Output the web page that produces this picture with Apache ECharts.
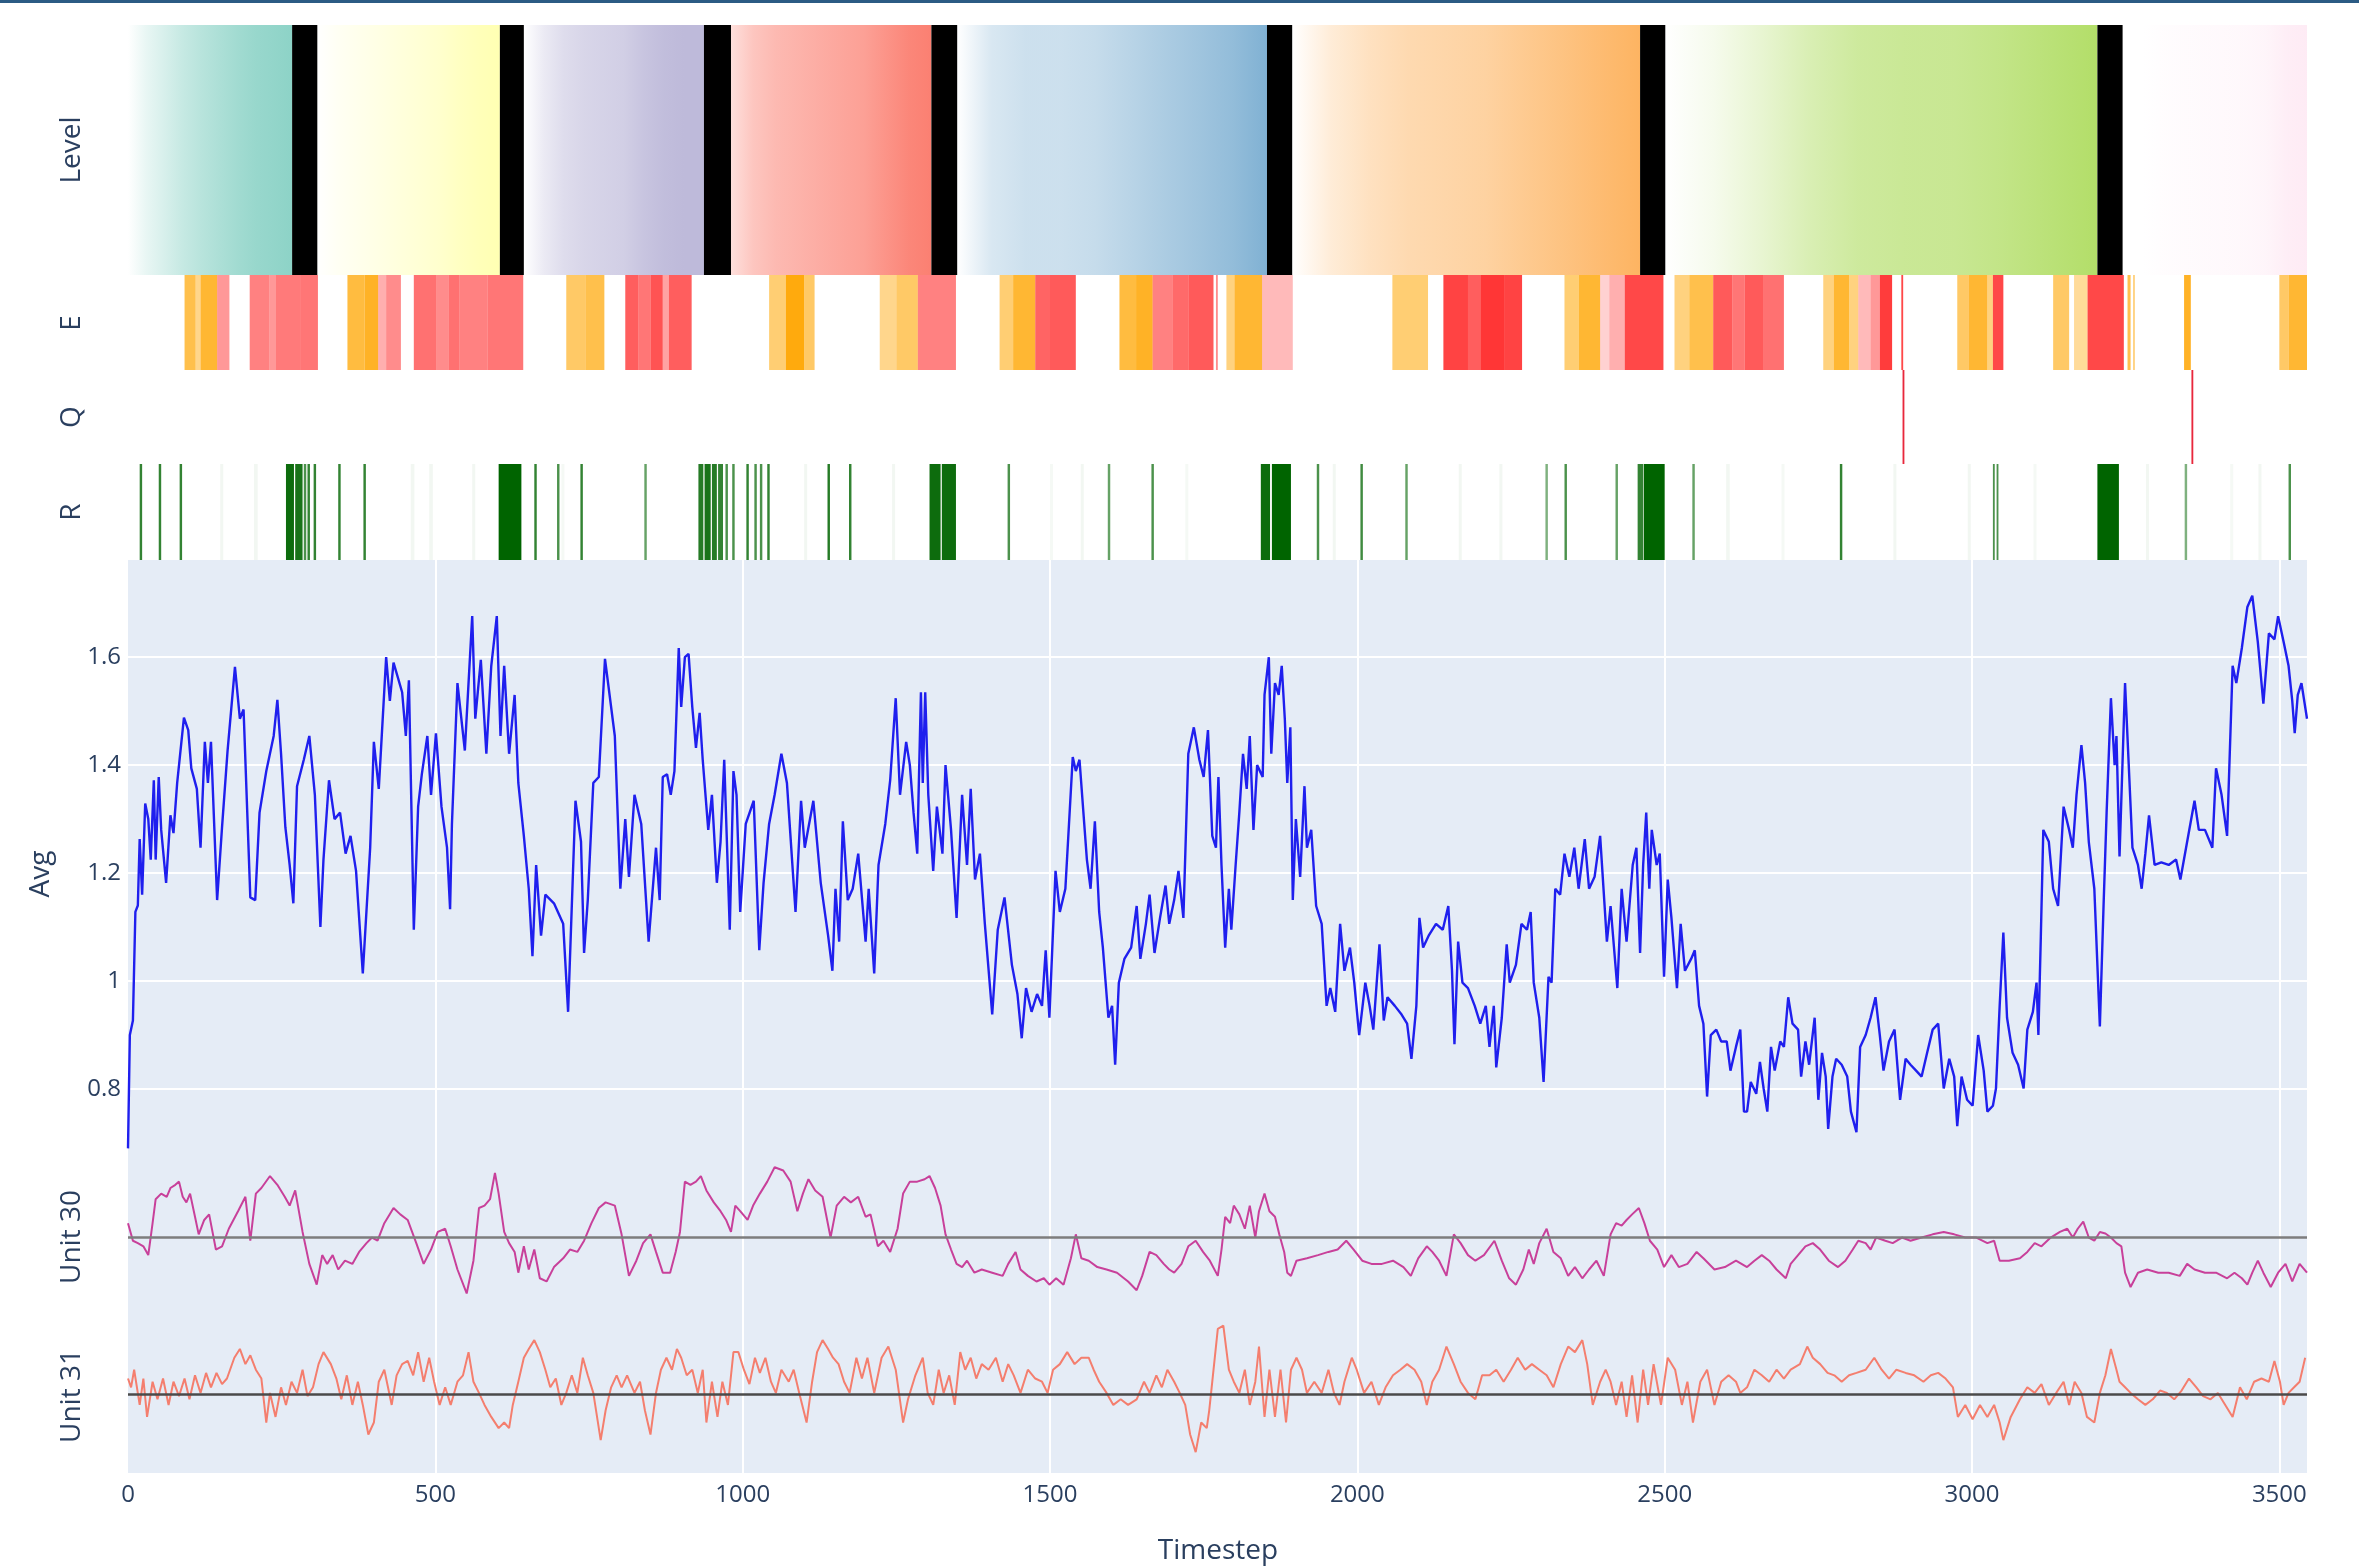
<!DOCTYPE html>
<html>
<head>
<meta charset="utf-8">
<script src="https://cdn.jsdelivr.net/npm/echarts@6/dist/echarts.min.js"></script>
<style>html,body{margin:0;padding:0;background:#fff}#c{width:2359px;height:1566px}</style>
</head>
<body>
<div id="c"></div>
<script>
// ---------------- DATA ----------------
const X_MAX = 3545;
const xTicks = [0, 500, 1000, 1500, 2000, 2500, 3000, 3500];

// Level strip: each level segment shows its progress (0..1) in samples
const levelStart = [0, 308, 644, 981, 1349, 1894, 2501, 3245];
const levelEnd   = [267, 605, 937, 1307, 1853, 2460, 3204, 3545];
const levelColor = ['#8DD3C7', '#FFFFB3', '#BEBADA', '#FB8072', '#80B1D3', '#FDB462', '#B3DE69', '#FCCDE5'];
const levelFill = [
  [0.0, 0.2, 0.35, 0.5, 0.62, 0.72, 0.82, 0.9, 0.95, 1.0],
  [0.0, 0.15, 0.25, 0.35, 0.45, 0.55, 0.65, 0.8, 0.92, 1.0],
  [0.0, 0.3, 0.5, 0.6, 0.65, 0.7, 0.85, 0.95, 1.0, 1.0],
  [0.25, 0.45, 0.55, 0.6, 0.65, 0.7, 0.75, 0.85, 0.95, 1.0],
  [0.0, 0.3, 0.4, 0.4, 0.45, 0.55, 0.65, 0.75, 0.85, 1.0],
  [0.0, 0.25, 0.4, 0.5, 0.55, 0.6, 0.7, 0.8, 0.9, 1.0],
  [0.0, 0.12, 0.3, 0.5, 0.65, 0.7, 0.72, 0.8, 0.9, 1.0],
  [0.0, 0.0, 0.05, 0.08, 0.1, 0.12, 0.15, 0.2, 0.35, 0.4]
];
// black "level done" markers
const doneStart = [267, 605, 937, 1307, 1853, 2460, 3204];
const doneEnd   = [308, 644, 981, 1349, 1894, 2501, 3245];

// E strip: [start, end, kind(0=orange,1=red), strength]
const eSegs = [
  [92,110,0,0.7],[110,118,0,0.45],[118,145,0,0.8],[145,165,1,0.45],
  [198,230,1,0.55],[230,240,1,0.45],[240,280,1,0.58],[280,309,1,0.6],
  [357,385,0,0.75],[385,407,0,0.85],[407,420,1,0.35],[420,444,1,0.5],
  [465,502,1,0.62],[502,522,1,0.5],[522,539,1,0.62],[539,585,1,0.55],[585,643,1,0.6],
  [713,745,0,0.6],[745,775,0,0.7],
  [809,830,1,0.7],[830,850,1,0.6],[850,870,1,0.75],[870,880,1,0.4],[880,917,1,0.7],
  [1043,1070,0,0.55],[1070,1100,0,0.95],[1100,1117,0,0.6],
  [1223,1250,0,0.45],[1250,1285,0,0.6],[1285,1347,1,0.55],
  [1418,1440,0,0.55],[1440,1476,0,0.8],[1476,1500,1,0.68],[1500,1542,1,0.72],
  [1613,1640,0,0.75],[1640,1667,0,0.85],[1667,1700,1,0.55],[1700,1725,1,0.65],[1725,1766,1,0.72],[1770,1773,1,0.5],
  [1787,1800,0,0.5],[1800,1845,0,0.8],[1845,1895,1,0.3],
  [2057,2115,0,0.55],
  [2140,2180,1,0.82],[2180,2200,1,0.7],[2200,2240,1,0.88],[2240,2268,1,0.82],
  [2337,2360,0,0.55],[2360,2395,0,0.8],[2395,2410,1,0.2],[2410,2435,1,0.35],[2435,2498,1,0.8],
  [2516,2540,0,0.5],[2540,2579,0,0.7],[2579,2610,1,0.72],[2610,2630,1,0.6],[2630,2660,1,0.72],[2660,2694,1,0.62],
  [2758,2775,0,0.5],[2775,2800,0,0.8],[2800,2815,0,0.5],[2815,2835,1,0.3],[2835,2850,1,0.45],[2850,2870,1,0.85],
  [2885,2888,1,0.8],
  [2976,2995,0,0.6],[2995,3025,0,0.8],[3025,3034,0,0.5],[3034,3051,1,0.8],
  [3132,3158,0,0.6],[3166,3188,0,0.4],[3188,3247,1,0.8],[3253,3258,0,0.7],[3262,3265,0,0.5],
  [3345,3356,0,0.85],[3500,3515,0,0.6],[3515,3545,0,0.8]
];

// Q strip: [start, end]
const qSegs = [[2887, 2890], [3357, 3360]];

// R strip: [start, end, strength]
const rSegs = [
  [150,155,0.05],[205,211,0.05],[460,466,0.05],[490,496,0.05],[560,565,0.05],[705,710,0.04],[1100,1105,0.05],
  [1243,1248,0.05],[1500,1505,0.04],[1550,1555,0.05],[1720,1725,0.04],[1960,1965,0.05],[2165,2170,0.05],
  [2231,2236,0.05],[2600,2606,0.05],[2690,2695,0.04],[2872,2877,0.05],[2993,2998,0.05],[3100,3105,0.04],
  [3283,3288,0.05],[3420,3425,0.04],[3466,3471,0.05],
  [19,23,0.8],[50,54,0.8],[84,88,0.8],
  [257,270,0.95],[272,284,0.9],[286,290,0.7],[292,296,0.8],[302,306,0.8],[342,346,0.8],[383,387,0.8],
  [603,640,1.0],[661,665,0.8],[698,702,0.7],[736,740,0.8],[840,844,0.6],
  [928,936,0.85],[938,948,0.9],[950,958,0.85],[960,968,0.8],[972,976,0.7],[983,987,0.7],
  [1006,1010,0.8],[1019,1023,0.7],[1028,1032,0.7],[1040,1044,0.8],
  [1138,1142,0.85],[1173,1177,0.8],[1304,1322,0.95],[1324,1347,0.95],[1431,1435,0.7],
  [1594,1598,0.6],[1665,1669,0.7],[1843,1858,0.95],[1861,1892,1.0],[1934,1938,0.7],
  [2005,2009,0.75],[2078,2082,0.6],[2306,2310,0.5],[2337,2341,0.7],[2420,2424,0.6],
  [2456,2465,0.8],[2466,2500,1.0],[2545,2549,0.6],[2785,2789,0.8],[3034,3037,0.7],[3040,3043,0.7],
  [3204,3239,1.0],[3346,3350,0.5],[3515,3519,0.7]
];

// Avg series
const avgT = [0,3,8,12,16,19,23,28,33,37,42,45,50,54,62,69,74,80,91,98,103,112,118,125,130,135,145,153,162,174,182,188,199,207,214,225,237,243,249,256,263,269,275,286,295,304,313,318,327,336,345,354,362,371,382,394,400,408,420,426,432,446,452,457,465,472,478,487,493,501,510,519,524,527,536,548,560,565,574,583,591,600,606,612,620,629,635,644,652,658,664,672,679,693,708,716,728,737,742,748,757,766,776,792,801,809,815,824,835,847,859,865,870,877,883,889,896,900,906,912,918,924,930,935,944,950,958,964,970,979,985,990,996,1005,1018,1027,1034,1043,1052,1063,1072,1086,1095,1101,1115,1127,1139,1146,1151,1157,1163,1171,1179,1188,1200,1205,1214,1221,1232,1240,1249,1256,1266,1272,1278,1284,1290,1293,1297,1302,1310,1316,1325,1330,1339,1348,1357,1365,1371,1378,1386,1394,1406,1415,1426,1438,1447,1454,1461,1470,1479,1487,1493,1499,1509,1516,1525,1537,1542,1548,1560,1566,1573,1580,1586,1595,1601,1606,1612,1621,1632,1641,1647,1656,1662,1670,1679,1688,1694,1702,1709,1717,1725,1734,1743,1750,1757,1764,1770,1774,1779,1785,1791,1795,1802,1808,1814,1820,1825,1831,1837,1846,1849,1856,1860,1866,1872,1877,1882,1886,1891,1895,1900,1907,1914,1918,1925,1933,1942,1950,1956,1964,1972,1979,1988,1995,2003,2013,2020,2026,2036,2043,2049,2061,2072,2081,2088,2096,2101,2107,2116,2128,2139,2148,2154,2158,2164,2171,2180,2191,2200,2209,2215,2222,2226,2235,2243,2248,2258,2267,2276,2282,2287,2296,2303,2311,2316,2322,2330,2337,2345,2353,2360,2370,2377,2386,2395,2406,2412,2423,2430,2438,2448,2454,2460,2465,2470,2475,2479,2487,2492,2499,2505,2511,2520,2526,2533,2543,2549,2556,2563,2569,2575,2584,2592,2601,2607,2616,2623,2629,2634,2640,2649,2655,2661,2667,2673,2679,2688,2694,2701,2708,2717,2722,2729,2735,2744,2750,2756,2762,2766,2773,2779,2788,2797,2803,2812,2818,2827,2835,2843,2850,2856,2865,2874,2883,2892,2900,2909,2918,2927,2936,2945,2954,2963,2971,2976,2983,2992,3001,3010,3019,3025,3034,3039,3045,3051,3057,3066,3075,3084,3090,3099,3105,3108,3112,3116,3125,3132,3140,3149,3158,3164,3170,3178,3184,3190,3199,3208,3214,3219,3226,3232,3235,3240,3249,3255,3261,3270,3276,3282,3288,3297,3308,3320,3332,3339,3350,3362,3369,3379,3391,3397,3406,3415,3424,3430,3439,3448,3456,3465,3474,3483,3492,3498,3507,3515,3521,3525,3530,3536,3545];
const avgV = [0.69,0.90,0.927,1.128,1.14,1.263,1.16,1.329,1.30,1.225,1.372,1.225,1.378,1.28,1.182,1.307,1.274,1.367,1.488,1.465,1.394,1.356,1.247,1.443,1.367,1.443,1.15,1.285,1.427,1.582,1.486,1.503,1.155,1.15,1.312,1.389,1.454,1.521,1.421,1.285,1.215,1.144,1.361,1.41,1.454,1.345,1.10,1.225,1.372,1.30,1.312,1.236,1.269,1.204,1.014,1.247,1.443,1.356,1.60,1.519,1.59,1.535,1.454,1.557,1.095,1.323,1.383,1.454,1.345,1.459,1.323,1.247,1.133,1.291,1.552,1.427,1.676,1.486,1.595,1.421,1.584,1.676,1.454,1.584,1.421,1.53,1.367,1.269,1.171,1.046,1.215,1.084,1.16,1.144,1.106,0.943,1.334,1.258,1.052,1.15,1.367,1.378,1.597,1.454,1.171,1.30,1.193,1.345,1.291,1.073,1.247,1.15,1.378,1.383,1.345,1.389,1.617,1.508,1.60,1.606,1.508,1.432,1.497,1.41,1.28,1.345,1.182,1.258,1.41,1.095,1.389,1.345,1.128,1.291,1.334,1.057,1.182,1.291,1.345,1.421,1.367,1.128,1.334,1.247,1.334,1.182,1.084,1.019,1.171,1.073,1.296,1.15,1.171,1.236,1.073,1.171,1.014,1.215,1.291,1.372,1.524,1.345,1.443,1.40,1.312,1.236,1.535,1.367,1.535,1.345,1.204,1.323,1.236,1.40,1.28,1.117,1.345,1.215,1.356,1.188,1.236,1.106,0.938,1.095,1.155,1.03,0.976,0.894,0.987,0.943,0.976,0.954,1.057,0.932,1.204,1.128,1.171,1.415,1.389,1.41,1.225,1.171,1.296,1.128,1.062,0.932,0.954,0.845,0.997,1.041,1.062,1.139,1.041,1.106,1.16,1.052,1.117,1.177,1.106,1.15,1.204,1.117,1.421,1.47,1.41,1.378,1.465,1.269,1.247,1.378,1.215,1.062,1.171,1.095,1.215,1.312,1.421,1.356,1.454,1.28,1.40,1.378,1.53,1.60,1.421,1.552,1.53,1.584,1.486,1.367,1.47,1.15,1.30,1.193,1.361,1.247,1.28,1.139,1.106,0.954,0.987,0.943,1.106,1.019,1.062,0.997,0.90,0.997,0.954,0.91,1.068,0.927,0.97,0.954,0.938,0.921,0.856,0.954,1.117,1.062,1.084,1.106,1.095,1.139,1.019,0.883,1.073,0.997,0.987,0.954,0.921,0.954,0.878,0.954,0.84,0.932,1.068,0.997,1.03,1.106,1.095,1.128,0.997,0.932,0.813,1.008,0.997,1.171,1.16,1.236,1.193,1.247,1.171,1.263,1.171,1.193,1.269,1.073,1.139,0.987,1.171,1.073,1.215,1.247,1.052,1.215,1.312,1.171,1.28,1.215,1.236,1.008,1.188,1.117,0.987,1.106,1.019,1.041,1.057,0.954,0.921,0.786,0.90,0.91,0.888,0.888,0.834,0.878,0.91,0.758,0.758,0.813,0.791,0.85,0.801,0.758,0.878,0.834,0.888,0.878,0.97,0.921,0.91,0.823,0.888,0.845,0.932,0.78,0.867,0.823,0.726,0.823,0.856,0.845,0.823,0.758,0.72,0.878,0.90,0.932,0.97,0.90,0.834,0.888,0.91,0.78,0.856,0.845,0.834,0.823,0.867,0.91,0.921,0.801,0.856,0.823,0.731,0.823,0.78,0.769,0.90,0.834,0.758,0.769,0.801,0.954,1.09,0.932,0.867,0.845,0.801,0.91,0.943,0.997,0.90,1.084,1.28,1.258,1.171,1.139,1.323,1.28,1.247,1.345,1.437,1.367,1.258,1.171,0.916,1.139,1.312,1.524,1.40,1.454,1.231,1.552,1.40,1.247,1.215,1.171,1.236,1.307,1.215,1.22,1.215,1.225,1.188,1.258,1.334,1.28,1.28,1.247,1.394,1.345,1.269,1.584,1.552,1.617,1.693,1.714,1.628,1.514,1.644,1.633,1.676,1.628,1.584,1.519,1.459,1.53,1.552,1.486];

// Unit 30 series (0 = reference line)
const u30T = [0,8,16,25,33,40,45,54,63,69,77,83,89,95,101,109,115,124,132,143,153,164,179,191,199,208,217,231,243,255,263,272,284,295,307,316,324,333,342,353,365,376,388,397,406,417,432,443,455,469,481,493,504,516,525,536,551,562,571,580,589,597,603,612,620,629,635,644,652,661,670,681,693,708,719,731,742,754,766,777,792,803,815,827,838,850,859,870,882,891,898,906,915,924,932,941,953,964,973,981,988,996,1008,1017,1028,1040,1052,1066,1078,1089,1098,1107,1118,1130,1143,1153,1165,1176,1188,1200,1208,1220,1229,1240,1252,1261,1272,1284,1296,1304,1313,1322,1330,1339,1348,1357,1365,1377,1389,1406,1423,1432,1444,1452,1464,1478,1490,1499,1510,1522,1534,1542,1551,1563,1577,1592,1609,1627,1641,1650,1662,1673,1685,1694,1702,1714,1725,1737,1749,1760,1773,1779,1785,1793,1799,1808,1817,1825,1834,1840,1849,1857,1866,1873,1881,1886,1892,1901,1918,1936,1953,1968,1982,1994,2008,2023,2040,2058,2075,2087,2099,2113,2122,2133,2145,2157,2168,2180,2192,2206,2223,2235,2247,2258,2270,2279,2287,2296,2308,2319,2331,2343,2354,2366,2377,2389,2401,2412,2421,2430,2438,2447,2458,2467,2476,2488,2499,2511,2523,2537,2552,2563,2581,2598,2616,2634,2646,2658,2670,2682,2697,2705,2717,2729,2741,2753,2767,2782,2794,2806,2815,2827,2835,2844,2859,2871,2886,2900,2918,2936,2954,2971,2989,3007,3025,3036,3045,3060,3078,3090,3102,3113,3128,3143,3155,3164,3172,3181,3190,3199,3208,3217,3226,3235,3243,3249,3258,3270,3285,3303,3320,3338,3350,3362,3379,3397,3415,3427,3439,3448,3456,3465,3474,3486,3498,3510,3521,3533,3545];
const u30V = [0.18,-0.04,-0.07,-0.11,-0.22,0.18,0.48,0.55,0.51,0.62,0.66,0.70,0.51,0.44,0.55,0.26,0.04,0.22,0.29,-0.15,-0.11,0.11,0.33,0.51,-0.04,0.55,0.62,0.77,0.66,0.51,0.40,0.59,0.07,-0.33,-0.59,-0.22,-0.33,-0.22,-0.40,-0.29,-0.33,-0.18,-0.07,0.00,-0.04,0.18,0.37,0.29,0.22,-0.07,-0.33,-0.15,0.07,0.11,-0.11,-0.40,-0.70,-0.29,0.37,0.40,0.48,0.81,0.55,0.07,-0.07,-0.18,-0.44,-0.11,-0.40,-0.15,-0.51,-0.55,-0.37,-0.26,-0.15,-0.18,-0.04,0.18,0.37,0.44,0.40,0.04,-0.48,-0.29,-0.07,0.04,-0.18,-0.44,-0.44,-0.18,0.07,0.70,0.66,0.70,0.77,0.59,0.44,0.33,0.22,0.07,0.40,0.33,0.22,0.40,0.55,0.70,0.88,0.84,0.70,0.33,0.55,0.73,0.59,0.51,0.00,0.40,0.51,0.44,0.51,0.26,0.29,-0.11,-0.04,-0.18,0.11,0.55,0.70,0.70,0.73,0.77,0.62,0.40,0.04,-0.15,-0.33,-0.37,-0.29,-0.44,-0.40,-0.44,-0.48,-0.33,-0.18,-0.40,-0.48,-0.55,-0.51,-0.59,-0.51,-0.59,-0.26,0.04,-0.26,-0.29,-0.37,-0.40,-0.44,-0.55,-0.66,-0.48,-0.18,-0.22,-0.33,-0.40,-0.44,-0.33,-0.11,-0.04,-0.18,-0.29,-0.48,-0.15,0.26,0.18,0.40,0.29,0.11,0.40,0.00,0.33,0.55,0.33,0.26,0.04,-0.18,-0.44,-0.48,-0.29,-0.26,-0.22,-0.18,-0.15,-0.04,-0.15,-0.29,-0.33,-0.33,-0.29,-0.37,-0.48,-0.26,-0.11,-0.18,-0.29,-0.48,0.04,-0.07,-0.22,-0.29,-0.22,-0.04,-0.29,-0.51,-0.59,-0.40,-0.15,-0.33,-0.07,0.11,-0.18,-0.26,-0.48,-0.37,-0.51,-0.40,-0.29,-0.48,0.04,0.18,0.15,0.22,0.29,0.37,0.18,-0.04,-0.15,-0.37,-0.22,-0.37,-0.33,-0.18,-0.26,-0.40,-0.37,-0.29,-0.37,-0.29,-0.22,-0.29,-0.40,-0.51,-0.33,-0.22,-0.11,-0.07,-0.15,-0.29,-0.37,-0.29,-0.15,-0.04,-0.07,-0.15,0.00,-0.04,-0.07,0.00,-0.04,0.00,0.04,0.07,0.04,0.00,0.00,-0.07,-0.04,-0.29,-0.29,-0.26,-0.18,-0.07,-0.11,0.00,0.07,0.11,0.00,0.11,0.20,0.00,-0.04,0.07,0.05,0.00,-0.07,-0.11,-0.44,-0.62,-0.44,-0.40,-0.44,-0.44,-0.48,-0.33,-0.40,-0.44,-0.44,-0.51,-0.44,-0.51,-0.59,-0.44,-0.29,-0.44,-0.62,-0.44,-0.33,-0.55,-0.33,-0.44];

// Unit 31 series (0 = reference line)
const u31T = [0,5,10,19,25,31,40,48,57,66,74,83,92,100,109,118,127,135,144,153,161,173,182,191,199,208,217,225,231,240,249,257,266,275,284,292,301,310,318,330,339,347,356,365,374,382,391,400,408,417,429,437,446,455,464,472,481,490,498,507,516,525,536,545,554,562,571,580,591,603,612,620,626,635,644,652,661,670,679,687,696,705,713,722,731,740,748,757,769,777,786,795,803,812,824,833,841,850,859,867,876,885,893,900,909,918,927,935,941,950,959,967,976,985,993,1002,1011,1020,1028,1037,1046,1054,1063,1075,1083,1092,1104,1113,1121,1130,1139,1147,1156,1165,1174,1185,1194,1203,1214,1226,1237,1249,1261,1269,1281,1293,1301,1310,1319,1327,1336,1345,1354,1362,1371,1380,1389,1400,1412,1423,1432,1441,1452,1464,1476,1487,1496,1505,1516,1528,1540,1551,1563,1571,1580,1592,1603,1615,1627,1641,1653,1662,1673,1682,1691,1702,1711,1720,1728,1737,1746,1755,1759,1764,1773,1782,1791,1799,1808,1817,1825,1834,1840,1849,1857,1866,1875,1884,1892,1901,1910,1918,1930,1942,1953,1962,1971,1979,1991,1999,2011,2023,2035,2046,2058,2070,2081,2093,2104,2113,2122,2133,2145,2157,2168,2180,2192,2203,2215,2226,2238,2250,2261,2273,2284,2296,2308,2319,2331,2343,2354,2366,2374,2383,2395,2404,2412,2421,2430,2438,2447,2456,2465,2473,2482,2494,2505,2517,2528,2537,2546,2558,2569,2581,2592,2604,2616,2623,2634,2646,2658,2670,2682,2694,2705,2720,2732,2741,2753,2765,2776,2788,2800,2812,2827,2841,2853,2865,2877,2892,2906,2921,2933,2945,2957,2969,2977,2989,3001,3013,3025,3036,3045,3051,3063,3078,3090,3102,3113,3125,3137,3149,3158,3167,3178,3187,3199,3208,3217,3226,3235,3240,3249,3258,3270,3282,3294,3306,3317,3329,3341,3353,3365,3376,3388,3400,3412,3424,3436,3447,3459,3471,3483,3492,3501,3507,3515,3524,3533,3542];
const u31V = [0.20,0.09,0.31,-0.13,0.20,-0.28,0.16,-0.06,0.20,-0.13,0.16,-0.02,0.20,-0.06,0.24,0.02,0.27,0.09,0.27,0.13,0.20,0.46,0.57,0.38,0.49,0.31,0.20,-0.35,0.02,-0.28,0.09,-0.13,0.16,0.02,0.31,-0.02,0.09,0.38,0.53,0.38,0.20,-0.06,0.24,-0.13,0.16,-0.13,-0.50,-0.35,0.16,0.31,-0.13,0.24,0.38,0.42,0.24,0.53,0.16,0.46,0.16,-0.13,0.09,-0.13,0.16,0.24,0.53,0.16,0.02,-0.13,-0.28,-0.42,-0.35,-0.42,-0.13,0.16,0.46,0.57,0.68,0.53,0.31,0.09,0.20,-0.13,0.02,0.24,0.02,0.46,0.24,0.02,-0.57,-0.20,0.09,0.24,0.09,0.24,0.02,0.16,-0.20,-0.50,0.02,0.31,0.46,0.31,0.57,0.46,0.24,0.31,0.02,0.31,-0.35,0.16,-0.28,0.16,-0.13,0.53,0.53,0.31,0.13,0.46,0.27,0.46,0.16,0.02,0.31,0.16,0.31,0.02,-0.35,0.16,0.53,0.68,0.57,0.46,0.38,0.16,0.02,0.46,0.20,0.46,0.02,0.46,0.60,0.31,-0.35,-0.06,0.24,0.46,0.02,-0.13,0.31,0.02,0.24,-0.13,0.53,0.31,0.46,0.20,0.38,0.31,0.46,0.16,0.38,0.24,0.02,0.31,0.20,0.16,0.02,0.31,0.38,0.53,0.38,0.46,0.46,0.31,0.16,0.02,-0.13,-0.06,-0.13,-0.06,0.16,0.02,0.24,0.09,0.31,0.16,0.02,-0.13,-0.50,-0.72,-0.35,-0.42,-0.20,0.16,0.82,0.86,0.31,0.16,0.02,0.31,-0.13,0.16,0.60,-0.28,0.31,-0.28,0.31,-0.35,0.31,0.46,0.31,0.02,0.16,0.02,0.31,0.02,-0.13,0.16,0.46,0.31,0.02,0.16,-0.13,0.09,0.24,0.31,0.38,0.31,0.16,-0.13,0.16,0.31,0.60,0.38,0.16,0.02,-0.06,0.24,0.24,0.31,0.16,0.31,0.46,0.31,0.38,0.31,0.24,0.09,0.38,0.60,0.53,0.68,0.38,-0.13,0.16,0.31,0.16,-0.13,0.16,-0.28,0.24,-0.35,0.31,-0.13,0.38,-0.13,0.46,0.31,-0.13,0.16,-0.35,0.16,0.31,-0.13,0.16,0.24,0.16,0.02,0.09,0.31,0.24,0.16,0.31,0.20,0.31,0.38,0.60,0.46,0.38,0.27,0.24,0.16,0.24,0.27,0.31,0.46,0.31,0.20,0.31,0.27,0.24,0.16,0.24,0.27,0.20,0.09,-0.28,-0.13,-0.31,-0.13,-0.28,-0.13,-0.35,-0.57,-0.28,-0.06,0.09,0.02,0.13,-0.13,0.02,0.16,-0.13,0.16,0.02,-0.28,-0.35,0.02,0.24,0.57,0.31,0.16,0.09,0.02,-0.06,-0.13,-0.06,0.05,0.02,-0.06,0.05,0.20,0.09,-0.02,-0.06,0.02,-0.13,-0.28,0.09,-0.06,0.16,0.20,0.16,0.42,0.16,-0.13,0.02,0.09,0.16,0.46];

// ---------------- CHART ----------------
const TXT = '#2a3f5f';
const FONT = '"Open Sans", "Noto Sans", sans-serif';
const BG = '#E5ECF6';

function rgba(hex, a) {
  const n = parseInt(hex.slice(1), 16);
  return 'rgba(' + ((n >> 16) & 255) + ',' + ((n >> 8) & 255) + ',' + (n & 255) + ',' + a + ')';
}

// Build item lists from data
const levelItems = levelStart.map((s, i) => [s, levelEnd[i], 1, i]);
const doneCells = doneStart.map((s, i) => [s, doneEnd[i], 1, 0]);
const eCells = eSegs.map(d => [d[0], d[1], d[3], d[2]]);
const qCells = qSegs.map(d => [d[0], d[1], 1, 0]);
const rCells = rSegs.map(d => [d[0], d[1], d[2], 0]);

function makeRender(colorFn) {
  return function (params, api) {
    const p0 = api.coord([api.value(0), 1]);
    const p1 = api.coord([api.value(1), 0]);
    const cs = params.coordSys;
    const rect = echarts.graphic.clipRectByRect(
      { x: p0[0], y: p0[1], width: Math.max(p1[0] - p0[0], 1), height: p1[1] - p0[1] },
      { x: cs.x, y: cs.y, width: cs.width, height: cs.height });
    if (!rect) return;
    return { type: 'rect', shape: rect, style: { fill: colorFn(api.value(2), api.value(3)) } };
  };
}

// Level: gradient whose stops are the progress samples of that level
function levelFillFn(a, i) {
  const f = levelFill[i], n = f.length;
  const stops = f.map((v, k) => ({ offset: k / (n - 1), color: rgba(levelColor[i], v) }));
  return new echarts.graphic.LinearGradient(0, 0, 1, 0, stops);
}

const grids = [
  { left: 128, right: 52, top: 25, height: 250 },
  { left: 128, right: 52, top: 275, height: 95 },
  { left: 128, right: 52, top: 370, height: 94 },
  { left: 128, right: 52, top: 464, height: 96 },
  { left: 128, right: 52, top: 560, height: 590, show: true, backgroundColor: BG, borderWidth: 0 },
  { left: 128, right: 52, top: 1150, height: 173, show: true, backgroundColor: BG, borderWidth: 0 },
  { left: 128, right: 52, top: 1323, height: 150, show: true, backgroundColor: BG, borderWidth: 0 }
];

const xAxes = grids.map((g, i) => ({
  type: 'value', gridIndex: i, min: 0, max: X_MAX, interval: 500,
  show: i >= 4,
  axisLine: { show: false }, axisTick: { show: false },
  axisLabel: {
    show: i === 6, fontSize: 24, color: TXT, fontFamily: FONT, margin: 10,
    showMaxLabel: false,
    formatter: v => (xTicks.indexOf(v) >= 0 ? String(v) : '')
  },
  splitLine: { show: i >= 4, showMinLine: false, showMaxLine: false, lineStyle: { color: '#ffffff', width: 2 } }
}));

const yAxes = [
  { type: 'value', gridIndex: 0, min: 0, max: 1, show: false },
  { type: 'value', gridIndex: 1, min: 0, max: 1, show: false },
  { type: 'value', gridIndex: 2, min: 0, max: 1, show: false },
  { type: 'value', gridIndex: 3, min: 0, max: 1, show: false },
  {
    type: 'value', gridIndex: 4, min: 0.687, max: 1.78, splitNumber: 5,
    axisLine: { show: false }, axisTick: { show: false },
    axisLabel: { fontSize: 24, color: TXT, fontFamily: FONT, margin: 7, showMinLabel: false, showMaxLabel: false },
    splitLine: { show: true, showMinLine: false, showMaxLine: false, lineStyle: { color: '#ffffff', width: 2 } }
  },
  { type: 'value', gridIndex: 5, min: -1.07, max: 1.096, axisLabel: { show: false }, axisLine: { show: false }, axisTick: { show: false }, splitLine: { show: false } },
  { type: 'value', gridIndex: 6, min: -0.981, max: 0.894, axisLabel: { show: false }, axisLine: { show: false }, axisTick: { show: false }, splitLine: { show: false } }
];

const refLine = (color) => ({
  silent: true, symbol: 'none', label: { show: false },
  lineStyle: { color: color, width: 2.5, type: 'solid' },
  data: [{ yAxis: 0 }]
});

const series = [
  { type: 'custom', xAxisIndex: 0, yAxisIndex: 0, data: levelItems, clip: true,
    renderItem: makeRender(levelFillFn) },
  { type: 'custom', xAxisIndex: 0, yAxisIndex: 0, data: doneCells, clip: true,
    renderItem: makeRender(() => '#000000') },
  { type: 'custom', xAxisIndex: 1, yAxisIndex: 1, data: eCells, clip: true,
    renderItem: makeRender((a, k) => k === 0 ? rgba('#FFA500', a) : rgba('#FF1A1A', a)) },
  { type: 'custom', xAxisIndex: 2, yAxisIndex: 2, data: qCells, clip: true,
    renderItem: makeRender(() => '#e8283c') },
  { type: 'custom', xAxisIndex: 3, yAxisIndex: 3, data: rCells, clip: true,
    renderItem: makeRender((a) => rgba('#006400', a)) },
  { type: 'line', name: 'Avg', xAxisIndex: 4, yAxisIndex: 4, showSymbol: false,
    data: avgT.map((t, i) => [t, avgV[i]]),
    lineStyle: { color: '#1f1fee', width: 2.4 }, itemStyle: { color: '#1f1fee' } },
  { type: 'line', name: 'Unit 30', xAxisIndex: 5, yAxisIndex: 5, showSymbol: false,
    data: u30T.map((t, i) => [t, u30V[i]]),
    lineStyle: { color: '#c8409a', width: 2 }, itemStyle: { color: '#c8409a' },
    markLine: refLine('#7d7d7d') },
  { type: 'line', name: 'Unit 31', xAxisIndex: 6, yAxisIndex: 6, showSymbol: false,
    data: u31T.map((t, i) => [t, u31V[i]]),
    lineStyle: { color: '#f47e6e', width: 2 }, itemStyle: { color: '#f47e6e' },
    markLine: refLine('#4a4a4a') }
];

function vTitle(text, x, y) {
  return {
    type: 'text', x: x, y: y, rotation: Math.PI / 2, silent: true,
    style: { text: text, fill: TXT, font: '28px ' + FONT, align: 'center', verticalAlign: 'middle',
             textAlign: 'center', textVerticalAlign: 'middle' }
  };
}

const chart = echarts.init(document.getElementById('c'), null, { renderer: 'canvas' });
chart.setOption({
  animation: false,
  backgroundColor: '#ffffff',
  grid: grids,
  xAxis: xAxes,
  yAxis: yAxes,
  series: series,
  graphic: [
    { type: 'rect', left: 0, top: 0, silent: true, shape: { width: 2359, height: 3 }, style: { fill: '#2b5b84' } },
    vTitle('Level', 72, 150),
    vTitle('E', 72, 323),
    vTitle('Q', 72, 417),
    vTitle('R', 72, 512),
    vTitle('Avg', 41, 874),
    vTitle('Unit 30', 72, 1237),
    vTitle('Unit 31', 72, 1396),
    { type: 'text', x: 1218, y: 1551, silent: true,
      style: { text: 'Timestep', fill: TXT, font: '28px ' + FONT, align: 'center', verticalAlign: 'middle',
               textAlign: 'center', textVerticalAlign: 'middle' } }
  ]
});
</script>
</body>
</html>
